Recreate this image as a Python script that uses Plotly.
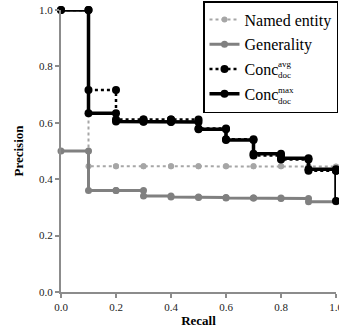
import plotly.graph_objects as go

recall = [0.0, 0.1, 0.2, 0.3, 0.4, 0.5, 0.6, 0.7, 0.8, 0.9, 1.0]
named_entity = [1.0, 0.446, 0.446, 0.446, 0.446, 0.446, 0.446, 0.446, 0.446, 0.445, 0.444]
generality = [0.5, 0.36, 0.36, 0.34, 0.337, 0.335, 0.333, 0.333, 0.332, 0.32, 0.322]
conc_avg = [1.0, 0.716, 0.612, 0.612, 0.612, 0.58, 0.542, 0.484, 0.47, 0.43, 0.43]
conc_max = [1.0, 0.634, 0.605, 0.604, 0.603, 0.577, 0.539, 0.49, 0.474, 0.435, 0.323]
x_ticks = [0.0, 0.2, 0.4, 0.6, 0.8, 1.0]
y_ticks = [0.0, 0.2, 0.4, 0.6, 0.8, 1.0]


def steps(xv, yv):
    xs, ys = [xv[0]], [yv[0]]
    for i in range(1, len(xv)):
        xs += [xv[i], xv[i]]
        ys += [yv[i - 1], yv[i]]
    return xs, ys


FONT = "Liberation Serif"
series = [
    ("Named entity", named_entity, "#a6a6a6", "dot", 2, 6),
    ("Generality", generality, "#808080", "solid", 3, 7),
    ("Conc", conc_avg, "#000000", "dot", 2.5, 8),
    ("Conc", conc_max, "#000000", "solid", 3.5, 8),
]

fig = go.Figure()
for k, (name, vals, col, dash, lw, ms) in enumerate(series):
    xs, ys = steps(recall, vals)
    fig.add_trace(go.Scatter(
        x=xs, y=ys, mode="lines+markers",
        name="<span style='font-family:Liberation Serif'>" + name + "</span>",
        legendgroup=str(k),
        line=dict(color=col, dash=dash, width=lw),
        marker=dict(color=col, size=ms, symbol="circle"),
        cliponaxis=False,
    ))

axis_common = dict(
    showgrid=False, zeroline=False, showline=True, linecolor="#8c8c8c", linewidth=2,
    ticks="outside", ticklen=4, tickcolor="#8c8c8c", tickwidth=1.5,
    tickfont=dict(family=FONT, size=11, color="#222"), range=[0, 1],
    tickformat=".1f", ticklabeloverflow="allow",
)
fig.update_xaxes(**axis_common, tickvals=x_ticks,
                 title=dict(text="<b>Recall</b>", font=dict(family=FONT, size=13, color="#000"), standoff=4))
fig.update_yaxes(**axis_common, tickvals=y_ticks,
                 title=dict(text="<b>Precision</b>", font=dict(family=FONT, size=13, color="#000"), standoff=12))

# stacked super/subscripts for the two "Conc" legend labels (page px -> paper coords)
def px2paper(px, py):
    return (px - 61) / 275.0, (292 - py) / 282.0

for sup, ycen in [("avg", 69), ("max", 95)]:
    xa, ya = px2paper(276, ycen - 5)
    fig.add_annotation(x=xa, y=ya, xref="paper", yref="paper", text=sup, showarrow=False,
                       xanchor="left", yanchor="middle", font=dict(family=FONT, size=9, color="#000"))
    xb, yb = px2paper(276, ycen + 6)
    fig.add_annotation(x=xb, y=yb, xref="paper", yref="paper", text="doc", showarrow=False,
                       xanchor="left", yanchor="middle", font=dict(family=FONT, size=9, color="#000"))

fig.update_layout(
    width=339, height=335,
    font=dict(family=FONT),
    margin=dict(l=61, r=3, t=10, b=43, autoexpand=False),
    plot_bgcolor="white", paper_bgcolor="white",
    legend=dict(
        x=(203 - 61) / 275.0, xanchor="left", y=(292 - 1) / 282.0, yanchor="top",
        bgcolor="white", bordercolor="black", borderwidth=1.5,
        font=dict(family=FONT, size=16, color="#000"),
        traceorder="grouped", tracegroupgap=1,
    ),
)

fig.write_html("out.html", config={"displayModeBar": False},
               post_script="document.body.style.margin='0';")
